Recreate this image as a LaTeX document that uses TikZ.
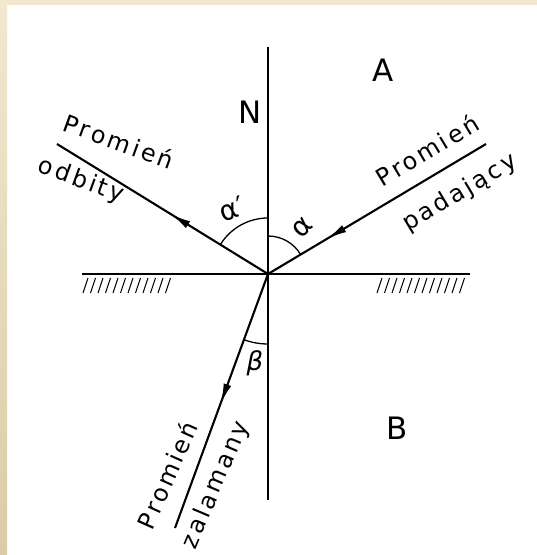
\documentclass[tikz,border=0pt]{standalone}
\usepackage{fontspec}
\setmainfont{DejaVu Sans}
\newfontfamily\labfont{DejaVu Sans}[LetterSpace=12]
\usetikzlibrary{arrows.meta,decorations.markings}
\definecolor{paperbeige}{RGB}{242,232,208}
\definecolor{edgetan}{RGB}{218,204,166}
\begin{document}
\begin{tikzpicture}[x=1bp,y=1bp,
  ray/.style={line width=2.1bp},
  normline/.style={line width=1.6bp},
  surf/.style={line width=2.1bp},
  hatchline/.style={line width=1bp},
  anglearc/.style={line width=1.3bp},
  lab/.style={font=\labfont\fontsize{24}{26}\selectfont, inner sep=0pt},
  biglab/.style={font=\fontsize{31}{34}\selectfont, inner sep=0pt},
  greek/.style={font=\fontsize{28}{30}\selectfont, inner sep=0pt},
  arrowmark/.style={postaction={decorate}, decoration={markings,
     mark=at position #1 with {\arrow{Latex[length=20bp,width=8bp]}}}}
]
\useasboundingbox (0,0) rectangle (537,555);
\fill[white] (0,0) rectangle (537,555);
\fill[paperbeige] (0,550) rectangle (537,555);
\shade[top color=paperbeige,bottom color=edgetan] (0,0) rectangle (7,555);

% points
\coordinate (O) at (268,281);
\coordinate (I) at (486,411);
\coordinate (R) at (57,411);
\coordinate (T) at (175,27);
\coordinate (Ntop) at (268,508);
\coordinate (Nbot) at (268,55);
\coordinate (SL) at (82,281);
\coordinate (SR) at (470,281);

% normal and surface
\draw[normline] (Ntop) -- (Nbot);
\draw[surf] (SL) -- (SR);
\foreach \x in {83,90.5,...,166} \draw[hatchline] (\x,262) -- ++(5,15);
\foreach \x in {377,384.5,...,460} \draw[hatchline] (\x,262) -- ++(5,15);

% rays
\draw[ray, arrowmark=0.73] (I) -- (O);
\draw[ray, arrowmark=0.46] (O) -- (R);
\draw[ray, arrowmark=0.51] (O) -- (T);

% angle arcs
\draw[anglearc] ([shift={(90:56)}]O) arc[start angle=90, end angle=148.4, radius=56];
\draw[anglearc] ([shift={(90:38)}]O) arc[start angle=90, end angle=30.8, radius=38];
\draw[anglearc] ([shift={(270:70)}]O) arc[start angle=270, end angle=250, radius=70];

% angle labels
\node[greek, rotate=20] (alphap) at (232,346) {α′};
\node[greek, rotate=45] (alpha) at (303,327) {α};
\node[greek, font=\fontsize{26}{28}\selectfont\itshape] (beta) at (255,192) {β};

% ray labels
\node[lab, rotate=31] (pinc) at (427,405) {Promień};
\node[lab, rotate=31] (padaj) at (460,362) {padający};
\node[lab, rotate=-20] (podb) at (119,414) {Promień};
\node[lab, rotate=-20] (odb) at (81,374) {odbity};
\node[lab, rotate=66] (pzal) at (167,80) {Promień};
\node[lab, rotate=67] (zal) at (216,70) {zalamany};

% media and normal labels
\node[biglab] (labN) at (250,443) {N};
\node[biglab] (labA) at (383,485) {A};
\node[biglab] (labB) at (397,127) {B};
\end{tikzpicture}
\end{document}
